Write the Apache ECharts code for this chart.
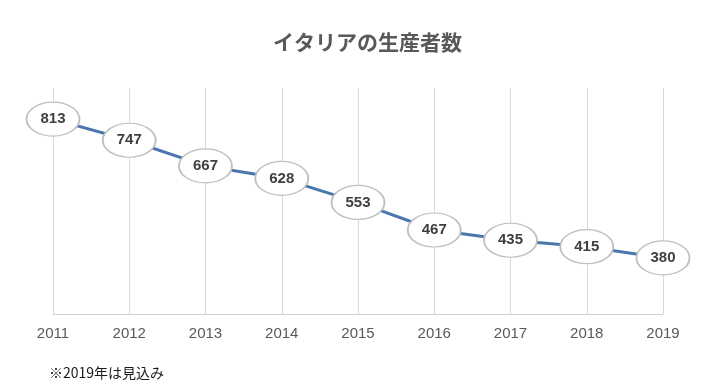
<!DOCTYPE html>
<html>
<head>
<meta charset="utf-8">
<script src="https://cdn.jsdelivr.net/npm/echarts@6/dist/echarts.min.js"></script>
<style>
html,body{margin:0;padding:0;background:#fff;}
#main{width:704px;height:386px;}
</style>
</head>
<body>
<div id="main"></div>
<script>
const titleText = 'イタリアの生産者数';
const noteText = '※2019年は見込み';
const years = ['2011','2012','2013','2014','2015','2016','2017','2018','2019'];
const producers = [813, 747, 667, 628, 553, 467, 435, 415, 380];

const chart = echarts.init(document.getElementById('main'));
chart.setOption({
  backgroundColor: '#ffffff',
  animation: false,
  title: [{
    text: titleText,
    left: 268,
    top: 27,
    textStyle: {fontFamily: 'Noto Sans CJK JP', fontSize: 21, fontWeight: 'bold', color: '#595959'}
  }, {
    text: noteText,
    left: 44,
    top: 361,
    textStyle: {fontFamily: 'Noto Sans CJK JP', fontSize: 14, fontWeight: 'normal', color: '#1a1a1a'}
  }],
  grid: {left: 53, right: 41, top: 88, bottom: 72},
  xAxis: {
    type: 'category',
    data: years,
    boundaryGap: false,
    axisLine: {lineStyle: {color: '#d0d0d0', width: 1}},
    axisTick: {show: false},
    axisLabel: {color: '#595959', fontSize: 15, fontFamily: 'Liberation Sans', margin: 12},
    splitLine: {show: true, lineStyle: {color: '#d9d9d9', width: 1}}
  },
  yAxis: {
    type: 'value',
    min: 205,
    max: 910,
    show: false,
    splitLine: {show: false}
  },
  series: [{
    type: 'line',
    data: producers,
    symbol: 'circle',
    symbolSize: [53, 34],
    lineStyle: {color: '#4a76ad', width: 3},
    itemStyle: {color: '#ffffff', borderColor: '#bfbfbf', borderWidth: 1.5},
    label: {
      show: true,
      position: 'inside',
      color: '#404040',
      fontSize: 15,
      fontWeight: 'bold',
      fontFamily: 'Liberation Sans'
    },
    z: 3
  }]
});
</script>
</body>
</html>
